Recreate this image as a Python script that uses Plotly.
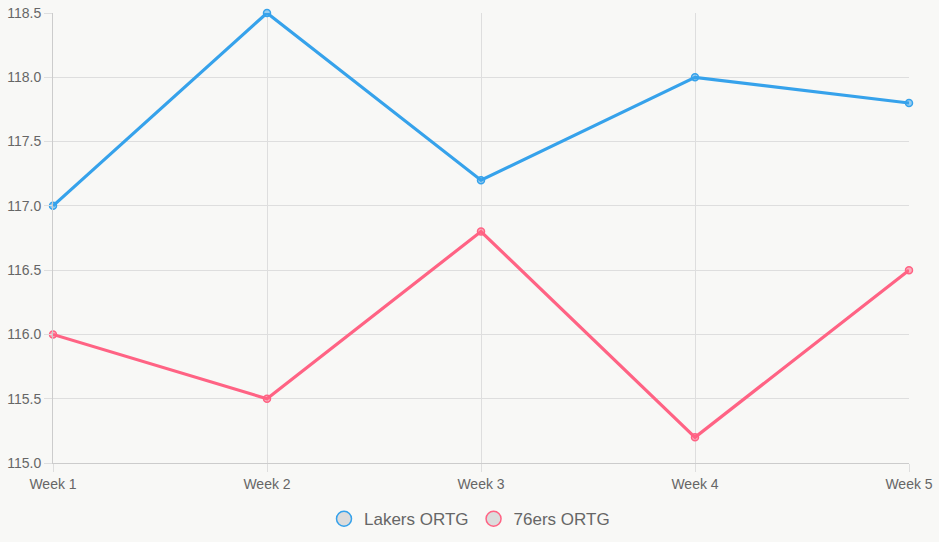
import plotly.graph_objects as go

weeks = ["Week 1", "Week 2", "Week 3", "Week 4", "Week 5"]
lakers = [117.0, 118.5, 117.2, 118.0, 117.8]
sixers = [116.0, 115.5, 116.8, 115.2, 116.5]
y_ticks = [115.0, 115.5, 116.0, 116.5, 117.0, 117.5, 118.0, 118.5]

BLUE = "#36A2EB"
PINK = "#FF6384"
BG = "#f8f8f6"
GRID = "#dedede"
FONT = "Liberation Sans, Arial, sans-serif"

fig = go.Figure()
for name, vals, col, fill in [("Lakers ORTG", lakers, BLUE, "rgba(54,162,235,0.5)"),
                              ("76ers ORTG", sixers, PINK, "rgba(255,99,132,0.5)")]:
    fig.add_trace(go.Scatter(
        x=weeks, y=vals, mode="lines+markers", name=name, showlegend=False,
        line=dict(color=col, width=3.2),
        marker=dict(size=7, color=fill, line=dict(color=col, width=1.5)),
        cliponaxis=False,
        hoverinfo="x+y",
    ))
for name, col in [("Lakers ORTG", BLUE), ("76ers ORTG", PINK)]:
    fig.add_trace(go.Scatter(
        x=[None], y=[None], mode="markers", name=name,
        marker=dict(size=15, color="#dcdcdc", line=dict(color=col, width=1.5)),
    ))

fig.update_layout(
    width=939, height=542,
    paper_bgcolor=BG, plot_bgcolor=BG,
    margin=dict(l=53, r=30, t=13, b=79, autoexpand=False),
    font=dict(family=FONT, size=14, color="#666666"),
    legend=dict(orientation="h", x=0.5, xanchor="center", xref="container",
                y=0.042, yanchor="middle", yref="container",
                font=dict(size=17, color="#666666"), itemsizing="trace",
                bgcolor="rgba(0,0,0,0)", tracegroupgap=0),
    xaxis=dict(type="category", range=[0, 4], showgrid=True, gridcolor=GRID,
               showline=True, linecolor="#cccccc", linewidth=1, automargin=False,
               ticks="outside", ticklen=8, tickcolor=GRID, zeroline=False,
               tickfont=dict(size=14, color="#666666")),
    yaxis=dict(range=[115, 118.5], tickvals=y_ticks, tickformat=".1f",
               showgrid=True, gridcolor=GRID, showline=True, linecolor="#cccccc",
               linewidth=1, ticks="outside", ticklen=8, tickcolor=GRID, automargin=False,
               zeroline=False, tickfont=dict(size=14, color="#666666")),
)

fig.write_html("out.html")
